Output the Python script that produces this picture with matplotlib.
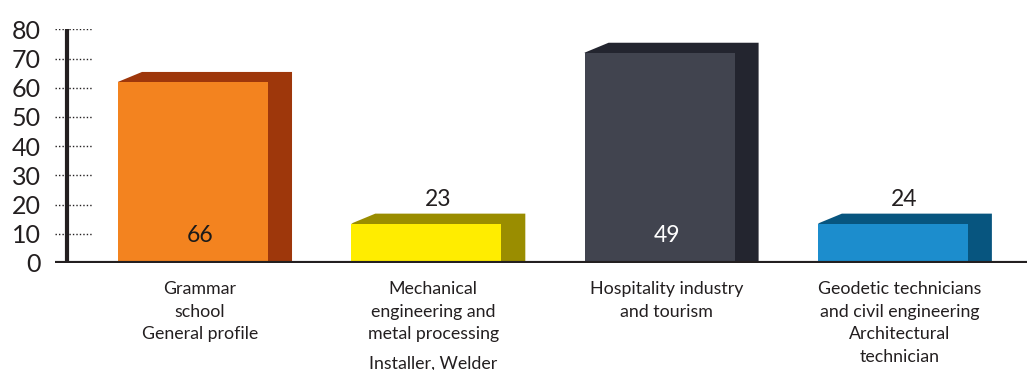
import matplotlib
matplotlib.use('Agg')
import matplotlib.pyplot as plt
from matplotlib.patches import Polygon

# --- data ---
categories = [
    'Grammar\nschool\nGeneral profile',
    'Mechanical\nengineering and\nmetal processing',
    'Hospitality industry\nand tourism',
    'Geodetic technicians\nand civil engineering\nArchitectural\ntechnician',
]
extra_lines = ['', 'Installer, Welder', '', '']
heights = [62, 13.5, 72, 13.5]          # drawn bar heights (axis units)
value_labels = ['66', '23', '49', '24']  # numbers printed on the bars
y_ticks = [0, 10, 20, 30, 40, 50, 60, 70, 80]

front_colors = ['#F3831F', '#FFED00', '#41444F', '#1C8DCD']
side_colors = ['#9E370B', '#9A8D00', '#23252F', '#07557F']
value_colors = ['#1a1a1a', '#1a1a1a', '#ffffff', '#1a1a1a']

TXT = '#231f20'
plt.rcParams['font.family'] = ['Lato', 'DejaVu Sans']

fig = plt.figure(figsize=(10.27, 3.70), dpi=100)
ax = fig.add_axes([55 / 1027, 107 / 370, 972 / 1027, 233.7 / 370])
ax.set_xlim(-0.5915, 3.575)
ax.set_ylim(0, 80)

width = 0.643   # front face width
dx, dy = 0.103, 3.4  # 3D depth offset

xs = list(range(len(heights)))

# back (side + top) faces first, then the front faces on top
for x, h, c in zip(xs, heights, side_colors):
    x0, x1 = x - width / 2, x + width / 2
    ax.add_patch(Polygon([(x0, h), (x0 + dx, h + dy), (x1 + dx, h + dy),
                          (x1 + dx, 0), (x1, 0)], closed=True,
                         facecolor=c, edgecolor='none', zorder=1))
ax.bar(xs, heights, width=width, color=front_colors, zorder=2)

# value labels
for x, h, lab, c in zip(xs, heights, value_labels, value_colors):
    if h > 30:
        ax.text(x + 0.03, 9.5, lab, ha='center', va='center',
                fontsize=16.5, color=c, zorder=3)
    else:
        ax.text(x + 0.05, h + dy + 5, lab, ha='center', va='center',
                fontsize=16.5, color=TXT, zorder=3)

# category labels under the baseline
for x, lab, extra in zip(xs, categories, extra_lines):
    ax.text(x + 0.03, -6.2, lab, ha='center', va='top', fontsize=12.8,
            color=TXT, linespacing=1.5)
    if extra:
        ax.text(x + 0.03, -34.3, extra, ha='center', va='center',
                fontsize=12.8, color=TXT)

# axis lines and dotted ticks
ax.plot([-0.54, -0.54], [0, 80], color=TXT, lw=3, zorder=4,
        solid_capstyle='butt')
ax.axhline(0, color=TXT, lw=3, zorder=4)
ax.hlines(y_ticks[1:], -0.5915, -0.433, colors=TXT, lw=1,
          linestyles=(0, (1, 1.5)), zorder=4)

for s in ax.spines.values():
    s.set_visible(False)
ax.set_xticks([])
ax.set_yticks(y_ticks)
ax.set_yticklabels([str(v) for v in y_ticks], fontsize=18, color=TXT)
ax.tick_params(axis='y', length=0, pad=10)

fig.savefig('out.png', dpi=100)
